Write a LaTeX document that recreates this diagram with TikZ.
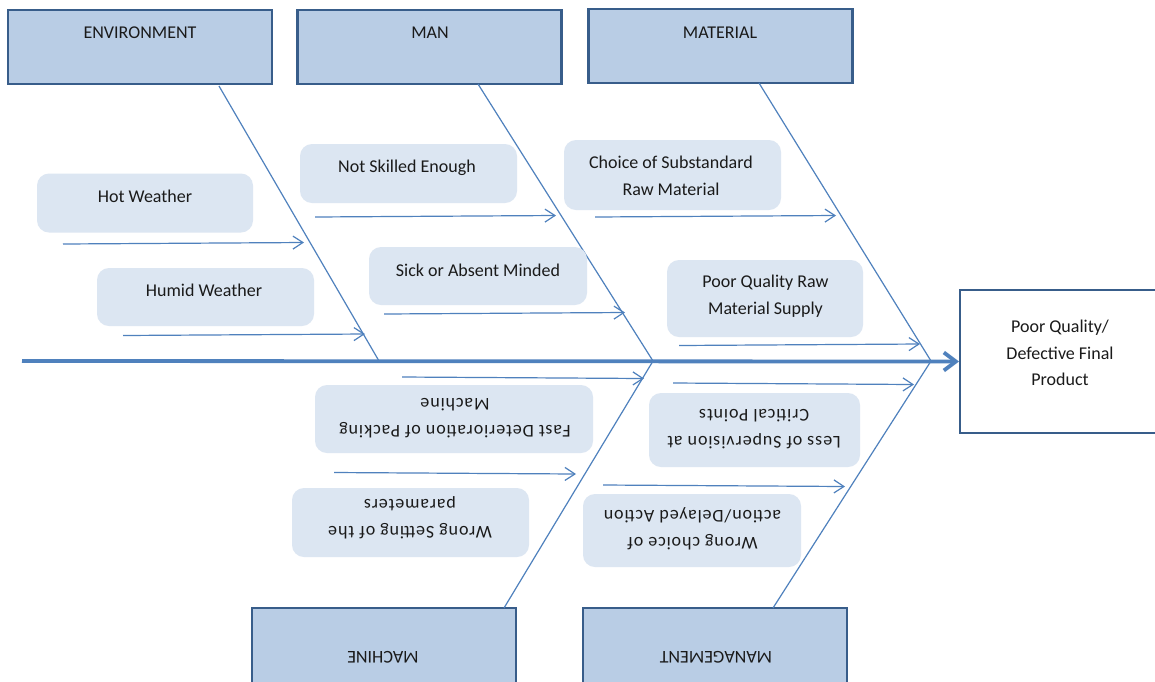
\documentclass[tikz,border=0pt]{standalone}
\usepackage{fontspec}
\setmainfont{Carlito}
\newfontfamily\spacedfont[LetterSpace=5]{Carlito}
\usetikzlibrary{arrows.meta}
\definecolor{catfill}{HTML}{B9CDE5}
\definecolor{catdraw}{HTML}{385D8A}
\definecolor{causefill}{HTML}{DCE6F2}
\definecolor{boneblue}{HTML}{4F81BD}
\definecolor{txt}{HTML}{1A1A1A}
\begin{document}
\begin{tikzpicture}[x=0.5pt,y=-0.5pt,
  cat/.style={draw=catdraw, line width=1.2pt, fill=catfill, inner sep=0pt, minimum width=132pt, minimum height=37pt},
  headbox/.style={draw=catdraw, line width=1pt, fill=white, inner sep=0pt},
  cause/.style={fill=causefill, rounded corners=6pt, inner sep=0pt},
  lbl/.style={font=\fontsize{9}{13.25}\selectfont, text=txt, align=center, inner sep=0pt},
  flip/.style={lbl, rotate=180},
  flipsp/.style={flip, font=\spacedfont\fontsize{9}{13.25}\selectfont},
  bone/.style={draw=boneblue, line width=0.6pt},
  spine/.style={draw=boneblue, line width=1.9pt, -{Straight Barb[length=6pt,width=9pt,line width=1.9pt]}},
  carrow/.style={draw=boneblue, line width=0.6pt, -{Straight Barb[length=5pt,width=6.5pt,line width=0.6pt]}},
]
\clip (0,0) rectangle (1155,681);
\fill[white] (0,0) rectangle (1155,681);

% category boxes
\node[cat] (env) at (140,47) {};
\node[cat] (man) at (429.5,47) {};
\node[cat] (mat) at (720.5,46) {};
\node[cat, minimum height=42pt] (mac) at (384,650) {};
\node[cat, minimum height=42pt] (mgt) at (715,650) {};
\node[lbl] (envT) at (140,33) {ENVIRONMENT};
\node[lbl] (manT) at (430,33) {MAN};
\node[lbl] (matT) at (720,33) {MATERIAL};
\node[flip] (macT) at (383,657) {MACHINE};
\node[flip] (mgtT) at (716,657) {MANAGEMENT};

% head box
\node[headbox, minimum width=103pt, minimum height=71.5pt] (head) at (1063,361.5) {};
\node[lbl] (headT) at (1060,353) {Poor Quality/\\Defective Final\\Product};

% spine and bones
\coordinate (tail) at (22,361);
\coordinate (j1) at (379,361);
\coordinate (j2) at (653,361);
\coordinate (j3) at (931,361);
\coordinate (b1) at (219,86);
\coordinate (b2) at (478,84);
\coordinate (b3) at (759,83);
\coordinate (b4) at (504,608);
\coordinate (b5) at (773,608);
\draw[bone] (b1) -- (j1);
\draw[bone] (b2) -- (j2);
\draw[bone] (b3) -- (j3);
\draw[bone] (b4) -- (j2);
\draw[bone] (b5) -- (j3);
\draw[spine] (tail) -- (head.west);

% cause boxes
\node[cause, minimum width=108pt, minimum height=29.5pt] (hot) at (145,203) {};
\node[lbl] (hotT) at (145,196) {Hot Weather};
\node[cause, minimum width=108.5pt, minimum height=29pt] (hum) at (205.5,297) {};
\node[lbl] (humT) at (204,290) {Humid Weather};
\node[cause, minimum width=108.5pt, minimum height=29.5pt] (nse) at (408.5,173.5) {};
\node[lbl] (nseT) at (407,168) {Not Skilled Enough};
\node[cause, minimum width=109pt, minimum height=29pt] (sick) at (478,276) {};
\node[lbl] (sickT) at (478,270) {Sick or Absent Minded};
\node[cause, minimum width=108.5pt, minimum height=35pt] (cho) at (672.5,175) {};
\node[lbl] (choT) at (671,176) {Choice of Substandard\\Raw Material};
\node[cause, minimum width=98pt, minimum height=38.5pt] (pq) at (765,298.5) {};
\node[lbl] (pqT) at (765.5,296) {Poor Quality Raw\\Material Supply};
\node[cause, minimum width=139pt, minimum height=34pt] (fd) at (454,419) {};
\node[flipsp] (fdT) at (455,418) {Fast Deterioration of Packing\\Machine};
\node[cause, minimum width=105.5pt, minimum height=37pt] (ls) at (754.5,430) {};
\node[flipsp] (lsT) at (754,429) {Less of Supervision at\\Critical Points};
\node[cause, minimum width=118.5pt, minimum height=34.5pt] (ws) at (410.5,522.5) {};
\node[flipsp] (wsT) at (410,518) {Wrong Setting of the\\parameters};
\node[cause, minimum width=109pt, minimum height=36.5pt] (wc) at (692,530.5) {};
\node[flipsp] (wcT) at (692.5,529) {Wrong choice of\\action/Delayed Action};

% cause arrows
\draw[carrow] (63,244) -- (304,242.5);
\draw[carrow] (123,335.5) -- (365,334);
\draw[carrow] (315,217) -- (556,215.5);
\draw[carrow] (384,314) -- (625,312.5);
\draw[carrow] (595,217) -- (836,215.5);
\draw[carrow] (679,345.5) -- (920,344);
\draw[carrow] (402,377) -- (644,378.5);
\draw[carrow] (673,383) -- (914,384.5);
\draw[carrow] (334,472.5) -- (576,474);
\draw[carrow] (603,485) -- (845,486.5);
\end{tikzpicture}
\end{document}
